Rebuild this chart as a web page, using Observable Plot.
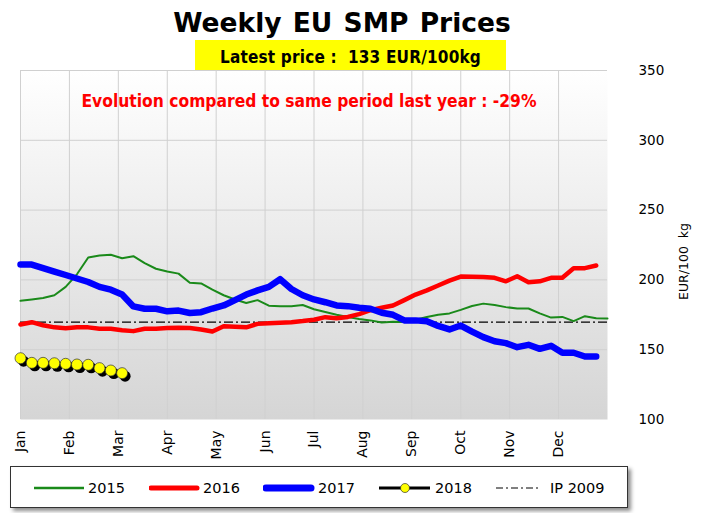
<!DOCTYPE html>
<html>
<head>
<meta charset="utf-8">
<script src="https://cdn.jsdelivr.net/npm/d3@7"></script>
<script src="https://cdn.jsdelivr.net/npm/@observablehq/plot@0.6"></script>
<style>
  html, body { margin: 0; padding: 0; background: #fff; }
  #wrap { position: relative; width: 703px; height: 513px; overflow: hidden; font-family: "DejaVu Sans", Verdana, sans-serif; }
  #title { position: absolute; left: 0; width: 684px; top: 7px; text-align: center; font-weight: bold; font-size: 26.5px; color: #000; word-spacing: 2px; }
  #latest { position: absolute; left: 195px; top: 40px; width: 311px; height: 30px; background: #ffff00; text-align: center; font-weight: bold; font-size: 17px; letter-spacing: 0.2px; line-height: 34px; font-family: "DejaVu Sans Condensed", "DejaVu Sans", sans-serif; z-index: 2; }
  #chart { position: absolute; left: 0; top: 60px; }
  #legend { position: absolute; left: 10px; top: 466px; width: 616px; height: 40px; border: 1.5px solid #333; background: #fff; box-shadow: 3px 3px 4px rgba(0,0,0,0.45); }
  .lg { position: absolute; top: 0; height: 40px; line-height: 42px; font-size: 14.5px; color: #000; }
  .sw { position: absolute; top: 0; }
</style>
</head>
<body>
<div id="wrap">
  <div id="chart"></div>
  <div id="title">Weekly EU SMP Prices</div>
  <div id="latest">Latest price :&nbsp; 133 EUR/100kg</div>
  <div id="legend"></div>
</div>
<script>
const months = ["Jan","Feb","Mar","Apr","May","Jun","Jul","Aug","Sep","Oct","Nov","Dec"];
const yTicks = [100,150,200,250,300,350];
const prices2015 = [185,186,187,189,195,204,216,217.5,218,215.5,217,212,208,206,204.5,198,197.5,193,189,186,183.5,185.5,181.5,181.2,181.2,182,179,177,175,173.5,172,171,169.5,170,169.8,171.5,173.5,175,176,178.5,181.3,183,182,180.5,179.5,179.5,176,173,173.5,170.5,174,172.5,172.3];
const prices2016 = [168,169.7,167.5,166,165.4,166,166,165,165,164,163.3,165,165,165.5,165.8,165.5,164.5,163,166.8,166.5,166,168.5,169,169.3,169.7,170.5,171.5,173.3,172.6,173.5,175.5,178.3,180,181.7,185.5,189.5,192.5,196,199.5,202.4,202.2,202,201.5,199,202.6,198.4,199,201.5,201.5,208.4,208.4,210.3];
const prices2017 = [211,211,208.5,206,203.5,201,198.5,195,193,189.5,181,179.3,179.3,177.5,178,176.3,176.9,179.5,181.7,185.5,189.5,192.5,195,200.5,193.5,189,186,184,181.7,181.2,180,179.3,176.5,175,171,171,170.3,167,164.5,167.3,163,159,156,154.7,151.8,153.5,150.6,152.8,147.8,147.8,145.1,145.1];
const prices2018 = [143.9,140.6,140.6,140.3,139.9,139.4,139.2,136.8,135.1,133.2];
const ip2009 = 169.8;
const evolutionText = "Evolution compared to same period last year : -29%";
const yLabel = "EUR/100\u00a0 kg";

const weeksPerYear = 52;
const toRows = (arr) => arr.map((v, i) => ({week: i, value: v}));
const d15 = toRows(prices2015), d16 = toRows(prices2016), d17 = toRows(prices2017), d18 = toRows(prices2018);
const monthTicks = months.map((m, i) => i * weeksPerYear / 12);

const plot = Plot.plot({
  width: 703,
  height: 405,
  marginTop: 10,
  marginBottom: 46,
  marginLeft: 20,
  marginRight: 96,
  style: { fontFamily: "DejaVu Sans, Verdana, sans-serif", background: "transparent", overflow: "visible" },
  x: { domain: [0, weeksPerYear] },
  y: { domain: [100, 350] },
  marks: [
    Plot.frame({ fill: "url(#bgGrad)", stroke: null }),
    Plot.ruleX(monthTicks, { stroke: "#d0d0d0", strokeWidth: 1 }),
    Plot.ruleY(yTicks.filter(t => t > 100), { stroke: "#d0d0d0", strokeWidth: 1 }),
    Plot.axisX({ ticks: monthTicks, tickFormat: (d, i) => months[i], tickRotate: -90, tickSize: 0, tickPadding: 11, fontSize: 14, label: null }),
    Plot.axisY({ anchor: "right", ticks: yTicks, tickSize: 0, tickPadding: 31, fontSize: 13.5, label: null, textAnchor: "start" }),
    Plot.text([yLabel], { frameAnchor: "right", dx: 76, dy: -22, rotate: -90, fontSize: 12.5, fill: "#000" }),
    Plot.text([evolutionText], { frameAnchor: "top", dx: -5, dy: 31, lineAnchor: "middle", fontSize: 17.3, fontWeight: "bold", fill: "#ff0000", fontFamily: "DejaVu Sans Condensed, DejaVu Sans, sans-serif" }),
    Plot.ruleY([ip2009], { stroke: "#000", strokeWidth: 1.2, strokeDasharray: "9,3,2,3" }),
    Plot.line(d15, { x: "week", y: "value", stroke: "#1a8a1a", strokeWidth: 2 }),
    Plot.line(d16, { x: "week", y: "value", stroke: "#ff0000", strokeWidth: 4.5 }),
    Plot.line(d17, { x: "week", y: "value", stroke: "#0000ff", strokeWidth: 6.5 }),
    Plot.line(d18, { x: "week", y: "value", stroke: "#000", strokeWidth: 3, dx: 3, dy: 3 }),
    Plot.dot(d18, { x: "week", y: "value", r: 5.5, fill: "#000", dx: 3, dy: 3 }),
    Plot.line(d18, { x: "week", y: "value", stroke: "#000", strokeWidth: 2 }),
    Plot.dot(d18, { x: "week", y: "value", r: 5.5, fill: "#ffff00", stroke: "#333", strokeWidth: 0.7 })
  ]
});

const svgNS = "http://www.w3.org/2000/svg";
const defs = document.createElementNS(svgNS, "defs");
defs.innerHTML = '<linearGradient id="bgGrad" x1="0" y1="0" x2="0" y2="1"><stop offset="0" stop-color="#ffffff"/><stop offset="1" stop-color="#d5d5d5"/></linearGradient>';
plot.insertBefore(defs, plot.firstChild);
plot.querySelectorAll("text").forEach(t => t.setAttribute("xml:space", "preserve"));
document.getElementById("chart").appendChild(plot);

// legend
const legendItems = [
  { label: "2015", x: 23, tx: 77, swatch: '<line x1="0" y1="21" x2="50" y2="21" stroke="#1a8a1a" stroke-width="2.5"/>' },
  { label: "2016", x: 138, tx: 192, swatch: '<line x1="2" y1="21" x2="48" y2="21" stroke="#ff0000" stroke-width="5" stroke-linecap="round"/>' },
  { label: "2017", x: 252, tx: 307, swatch: '<line x1="3" y1="21" x2="48" y2="21" stroke="#0000ff" stroke-width="7" stroke-linecap="round"/>' },
  { label: "2018", x: 368, tx: 424, swatch: '<line x1="0" y1="21" x2="51" y2="21" stroke="#000" stroke-width="3"/><circle cx="26" cy="21" r="4.5" fill="#ffff00" stroke="#333" stroke-width="0.7"/>' },
  { label: "IP 2009", x: 485, tx: 539, swatch: '<line x1="0" y1="21" x2="42" y2="21" stroke="#000" stroke-width="1" stroke-dasharray="7,3,2,3"/>' }
];
const lg = document.getElementById("legend");
legendItems.forEach(it => {
  const s = document.createElement("div");
  s.className = "sw";
  s.style.left = it.x + "px";
  s.innerHTML = '<svg width="54" height="40">' + it.swatch + '</svg>';
  lg.appendChild(s);
  const t = document.createElement("div");
  t.className = "lg";
  t.style.left = it.tx + "px";
  t.textContent = it.label;
  lg.appendChild(t);
});
</script>
</body>
</html>
